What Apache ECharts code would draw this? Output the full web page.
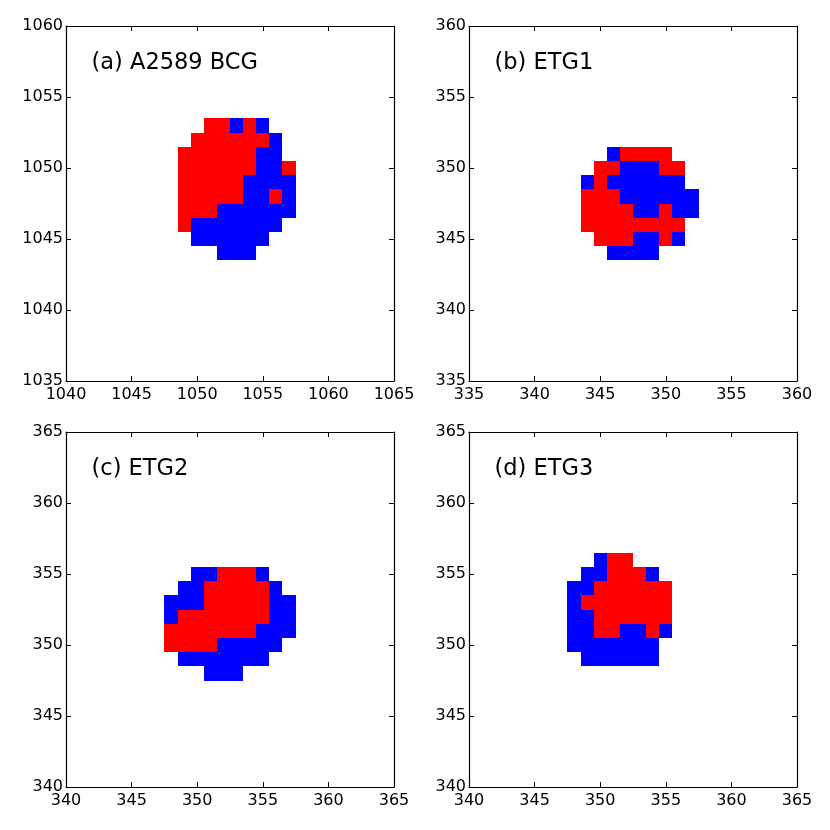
<!DOCTYPE html>
<html>
<head>
<meta charset="utf-8">
<script src="https://cdn.jsdelivr.net/npm/echarts@6/dist/echarts.min.js"></script>
<style>
html,body{margin:0;padding:0;background:#fff;}
#chart{width:830px;height:830px;}
</style>
</head>
<body>
<div id="chart"></div>
<script>
// Panel titles
const panelTitles = ['(a) A2589 BCG', '(b) ETG1', '(c) ETG2', '(d) ETG3'];

// Axis ranges per panel [xmin, xmax, ymin, ymax]
const panelRanges = [
  [1040, 1065, 1035, 1060],
  [335, 360, 335, 360],
  [340, 365, 340, 365],
  [340, 365, 340, 365]
];

// Pixel rows: [y, first x, pattern]  R = red, B = blue
const rowsA = [
  [1053, 1051, 'RRBRB'],
  [1052, 1050, 'RRRRRRB'],
  [1051, 1049, 'RRRRRRBB'],
  [1050, 1049, 'RRRRRRBBR'],
  [1049, 1049, 'RRRRRBBBB'],
  [1048, 1049, 'RRRRRBBRB'],
  [1047, 1049, 'RRRBBBBBB'],
  [1046, 1049, 'RBBBBBBB'],
  [1045, 1050, 'BBBBBB'],
  [1044, 1052, 'BBB']
];
const rowsB = [
  [351, 346, 'BRRRR'],
  [350, 345, 'RRBBBRR'],
  [349, 344, 'BRBBBBBB'],
  [348, 344, 'RRRBBBBBB'],
  [347, 344, 'RRRRBBRBB'],
  [346, 344, 'RRRRRRRR'],
  [345, 345, 'RRRBBRB'],
  [344, 346, 'BBBB']
];
const rowsC = [
  [355, 350, 'BBRRRB'],
  [354, 349, 'BBRRRRRB'],
  [353, 348, 'BBBRRRRRBB'],
  [352, 348, 'BRRRRRRRBB'],
  [351, 348, 'RRRRRRRBBB'],
  [350, 348, 'RRRRBBBBB'],
  [349, 349, 'BBBBBBB'],
  [348, 351, 'BBB']
];
const rowsD = [
  [356, 350, 'BRR'],
  [355, 349, 'BBRRRB'],
  [354, 348, 'BBRRRRRR'],
  [353, 348, 'BRRRRRRR'],
  [352, 348, 'BBRRRRRR'],
  [351, 348, 'BBRRBBRB'],
  [350, 348, 'BBBBBBB'],
  [349, 349, 'BBBBBB']
];
const panelRows = [rowsA, rowsB, rowsC, rowsD];

const RED = '#ff0000', BLUE = '#0000ff';
const FONT = 'DejaVu Sans';

function rowsToData(rows) {
  const out = [];
  rows.forEach(([y, x0, pat]) => {
    for (let i = 0; i < pat.length; i++) {
      out.push([x0 + i, y, pat[i] === 'R' ? 1 : 0]);
    }
  });
  return out;
}

const gridPos = [
  {left: 66, top: 26, width: 328, height: 355},
  {left: 469, top: 26, width: 328, height: 355},
  {left: 66, top: 432, width: 328, height: 355},
  {left: 469, top: 432, width: 328, height: 355}
];

const grids = [], xAxes = [], yAxes = [], series = [], titles = [];
const lineStyle = {color: '#000', width: 1.2};
const plain = v => String(v);

panelRanges.forEach((r, i) => {
  grids.push(Object.assign({containLabel: false}, gridPos[i]));
  const common = {
    type: 'value', gridIndex: i, interval: 5,
    axisLine: {show: true, onZero: false, lineStyle: lineStyle},
    axisTick: {show: true, inside: true, length: 5, lineStyle: {color: '#000', width: 1}},
    splitLine: {show: false}
  };
  xAxes.push(Object.assign({}, common, {
    min: r[0], max: r[1], position: 'bottom',
    axisLabel: {show: true, color: '#000', fontFamily: FONT, fontSize: 16, margin: 6,
      formatter: plain, showMinLabel: true, showMaxLabel: true, hideOverlap: false}
  }));
  xAxes.push(Object.assign({}, common, {
    min: r[0], max: r[1], position: 'top', axisLabel: {show: false}
  }));
  yAxes.push(Object.assign({}, common, {
    min: r[2], max: r[3], position: 'left',
    axisLabel: {show: true, color: '#000', fontFamily: FONT, fontSize: 16, margin: 3,
      formatter: plain, showMinLabel: true, showMaxLabel: true, hideOverlap: false}
  }));
  yAxes.push(Object.assign({}, common, {
    min: r[2], max: r[3], position: 'right', axisLabel: {show: false}
  }));
  series.push({
    type: 'custom',
    xAxisIndex: i * 2, yAxisIndex: i * 2,
    clip: true,
    silent: true,
    data: rowsToData(panelRows[i]),
    renderItem: function (params, api) {
      const x = api.value(0), y = api.value(1);
      const p0 = api.coord([x - 0.5, y + 0.5]);
      const p1 = api.coord([x + 0.5, y - 0.5]);
      const x0 = Math.round(p0[0]), y0 = Math.round(p0[1]);
      const x1 = Math.round(p1[0]), y1 = Math.round(p1[1]);
      const c = api.value(2) ? RED : BLUE;
      return {
        type: 'rect',
        shape: {x: x0, y: y0, width: x1 - x0, height: y1 - y0},
        style: {fill: c}
      };
    }
  });
  titles.push({
    text: panelTitles[i],
    left: gridPos[i].left + 25.5,
    top: gridPos[i].top + 26,
    padding: 0,
    textStyle: {fontFamily: FONT, fontSize: 22.5, fontWeight: 'normal', color: '#000'}
  });
});

const chart = echarts.init(document.getElementById('chart'), null, {renderer: 'canvas'});
chart.setOption({
  animation: false,
  backgroundColor: '#fff',
  title: titles,
  grid: grids,
  xAxis: xAxes,
  yAxis: yAxes,
  series: series
});
</script>
</body>
</html>
